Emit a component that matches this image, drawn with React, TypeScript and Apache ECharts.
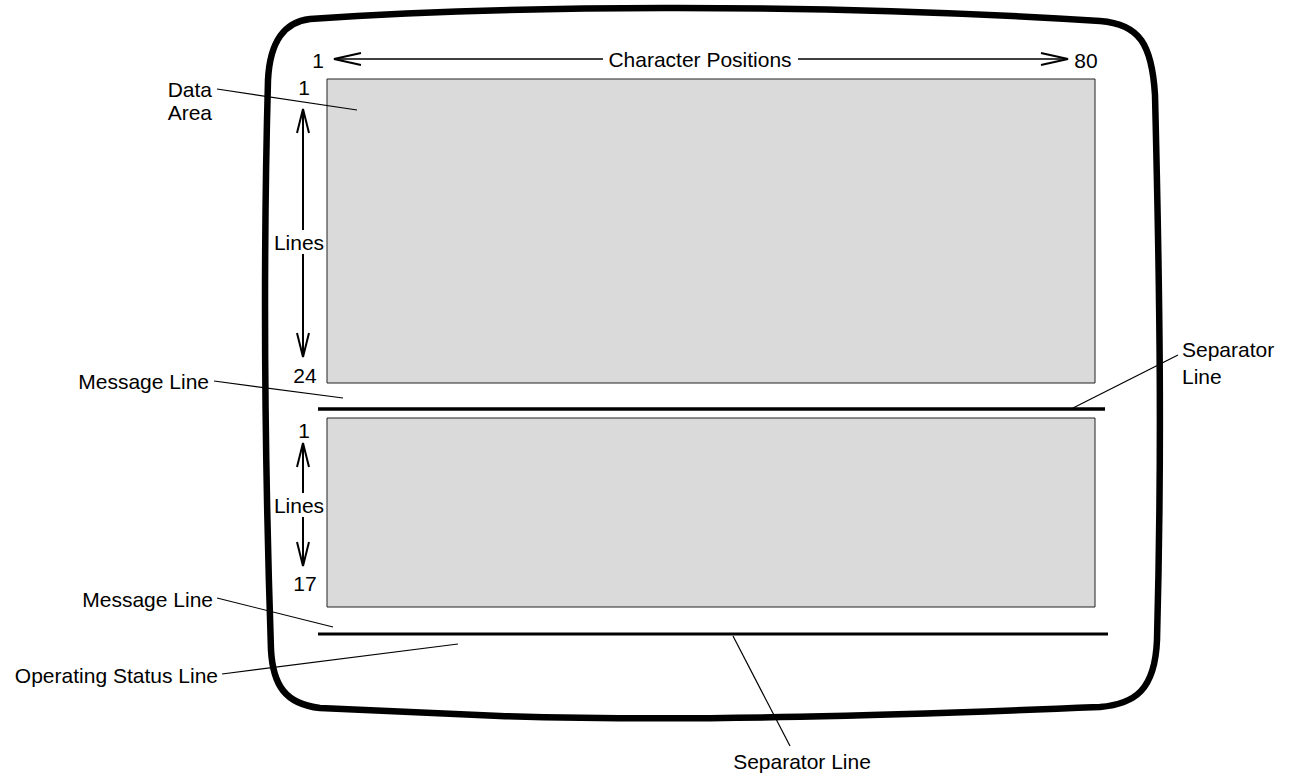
import React, { useEffect, useRef } from "react";
import * as echarts from "echarts";

// ---- content (texts / values) ----
const charPositionTicks = ["1", "80"];
const charPositionTitle = "Character Positions";
const upperLineTicks = ["1", "24"];
const lowerLineTicks = ["1", "17"];
const linesLabel = "Lines";
const leftAnnotations = ["Data\nArea", "Message Line", "Message Line", "Operating Status Line"];
const separatorLabels = ["Separator\nLine", "Separator Line"];

const FONT = "'Liberation Sans', Arial, Helvetica, sans-serif";
const FS = 21;

const SCREEN_D =
  "M 310 19 C 500 6 800 2 1100 21 C 1140 24 1152 45 1155 95 C 1160 300 1162 450 1157 640 C 1155 690 1135 704 1100 707 C 900 715 700 722 500 716 L 320 708 C 285 704 273 685 271 650 C 266 500 262 300 268 80 C 270 40 285 22 310 19 Z";

let registered = false;
function ensureShape() {
  if (registered) return;
  echarts.graphic.registerShape("screenOutline", echarts.graphic.extendPath(SCREEN_D, {}) as any);
  registered = true;
}

function txt(text: string, x: number, y: number, align = "center", vAlign = "middle", size = FS, lh?: number) {
  return {
    type: "text",
    x,
    y,
    style: {
      text,
      fontSize: size,
      fontFamily: FONT,
      fill: "#000",
      align,
      textAlign: align,
      verticalAlign: vAlign,
      textVerticalAlign: vAlign,
      lineHeight: lh ?? Math.round(size * 1.15),
    },
  };
}

function line(x1: number, y1: number, x2: number, y2: number, w = 1.2) {
  return {
    type: "line",
    shape: { x1, y1, x2, y2 },
    style: { stroke: "#000", lineWidth: w },
  };
}

function chevron(points: number[][], w = 2) {
  return {
    type: "polyline",
    shape: { points },
    style: { stroke: "#000", lineWidth: w, fill: "none" },
  };
}

function vArrows(x: number, topLabelY: number, upTip: number, midY: number, downTip: number, bottomLabelY: number, ticks: string[]) {
  const L = 24;
  const W = 6;
  return [
    txt(ticks[0], x + 1, topLabelY),
    line(x, upTip, x, midY - 12, 2),
    chevron([[x - W, upTip + L], [x, upTip], [x + W, upTip + L]]),
    txt(linesLabel, x - 4, midY),
    line(x, midY + 12, x, downTip, 2),
    chevron([[x - W, downTip - L], [x, downTip], [x + W, downTip - L]]),
    txt(ticks[1], x + 2, bottomLabelY),
  ];
}

export default function App() {
  const ref = useRef<HTMLDivElement>(null);
  useEffect(() => {
    if (!ref.current) return;
    ensureShape();
    const chart = echarts.init(ref.current, null, { renderer: "svg" });
    const elements: any[] = [
      // shaded areas
      { type: "rect", shape: { x: 327, y: 79, width: 768, height: 304 }, style: { fill: "#dadada", stroke: "#222", lineWidth: 1 } },
      { type: "rect", shape: { x: 327, y: 418, width: 768, height: 189 }, style: { fill: "#dadada", stroke: "#222", lineWidth: 1 } },
      // separators
      line(318, 409, 1105, 409, 3.5),
      line(318, 634, 1108, 634, 3),
      // screen outline
      { type: "screenOutline", x: 0, y: 0, scaleX: 1, scaleY: 1, style: { fill: "none", stroke: "#000", lineWidth: 6.5 } },
      // character positions
      txt(charPositionTicks[0], 318, 60),
      txt(charPositionTitle, 700, 59),
      txt(charPositionTicks[1], 1086, 60),
      line(334, 59, 603, 59, 1.6),
      line(798, 59, 1067, 59, 1.6),
      chevron([[361, 53], [334, 59], [361, 65]]),
      chevron([[1041, 53], [1068, 59], [1041, 65]]),
      // vertical line arrows
      ...vArrows(303, 87, 109, 242, 357, 375, upperLineTicks),
      ...vArrows(303, 430, 443, 505, 566, 583, lowerLineTicks),
      // left annotations
      txt(leftAnnotations[0], 212, 101, "right", "middle", FS, 23),
      line(217, 89, 357, 110),
      txt(leftAnnotations[1], 209, 381, "right"),
      line(214, 381, 343, 398),
      txt(leftAnnotations[2], 213, 599, "right"),
      line(217, 598, 333, 627),
      txt(leftAnnotations[3], 218, 675, "right"),
      line(222, 674, 458, 644),
      // separator annotations
      txt(separatorLabels[0], 1182, 363, "left", "middle", FS, 27),
      line(1073, 408, 1178, 355),
      txt(separatorLabels[1], 802, 761),
      line(733, 636, 790, 746),
    ];
    chart.setOption({
      animation: false,
      backgroundColor: "#fff",
      graphic: { elements },
    });
    return () => chart.dispose();
  }, []);
  return (
    <div
      ref={ref}
      style={{ position: "fixed", left: 0, top: 0, width: 1295, height: 774, background: "#fff" }}
    />
  );
}
